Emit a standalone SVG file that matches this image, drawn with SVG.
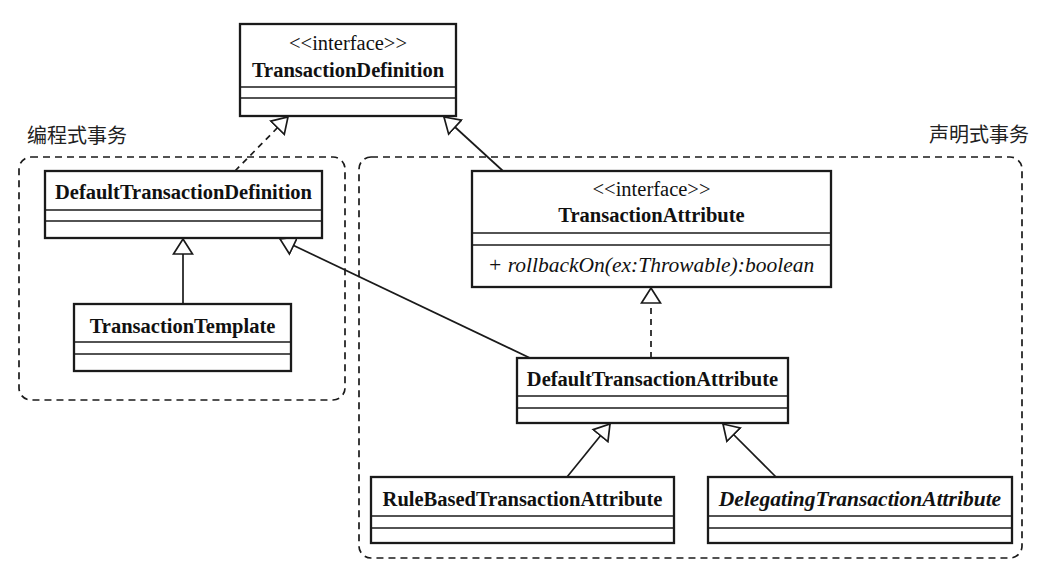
<svg xmlns="http://www.w3.org/2000/svg" width="1048" height="573" viewBox="0 0 1048 573">
<style>
.box{fill:#fff;stroke:#1a1a1a;stroke-width:2.3}
.sep{stroke:#1a1a1a;stroke-width:1.7}
.grp{fill:none;stroke:#1a1a1a;stroke-width:1.7;stroke-dasharray:7 5}
.t{font-family:"Liberation Serif","Times New Roman",serif;fill:#111;text-anchor:middle}
.b{font-weight:bold;font-size:20.5px}
.st{font-size:20.5px}
.i{font-style:italic;font-size:21.5px}
.m{font-size:21.5px;font-style:italic}
.cn{font-family:"Liberation Serif","Noto Sans CJK SC",serif;font-size:20px;fill:#222}
.c{stroke:#1a1a1a;stroke-width:1.7;fill:none}
.d{stroke-dasharray:6 5}
</style>
<defs>
<marker id="tri" markerUnits="userSpaceOnUse" viewBox="0 0 17 22" markerWidth="17" markerHeight="22" refX="16" refY="11" orient="auto">
<path d="M1,1.5 L16,11 L1,20.5 Z" fill="#fff" stroke="#1a1a1a" stroke-width="1.7" stroke-dasharray="none"/>
</marker>
</defs>
<rect width="1048" height="573" fill="#fff"/>
<g id="groups">
<rect class="grp" x="19" y="157" width="326" height="243" rx="12"/>
<text class="cn" x="27" y="143">编程式事务</text>
<rect class="grp" x="359" y="157" width="663" height="401" rx="12"/>
<text class="cn" x="929" y="142">声明式事务</text>
</g>
<g id="connectors">
<line class="c d" x1="235" y1="171" x2="288" y2="117" marker-end="url(#tri)"/>
<line class="c" x1="503" y1="171" x2="444" y2="117" marker-end="url(#tri)"/>
<line class="c" x1="183" y1="304" x2="183" y2="239" marker-end="url(#tri)"/>
<line class="c" x1="530" y1="358" x2="280" y2="239" marker-end="url(#tri)"/>
<line class="c d" x1="651" y1="358" x2="651" y2="288" marker-end="url(#tri)"/>
<line class="c" x1="567" y1="477" x2="610" y2="424" marker-end="url(#tri)"/>
<line class="c" x1="776" y1="477" x2="723" y2="424" marker-end="url(#tri)"/>
</g>
<g id="TransactionDefinition">
<rect class="box" x="240" y="24" width="216" height="92"/>
<line class="sep" x1="240" y1="87" x2="456" y2="87"/>
<line class="sep" x1="240" y1="98" x2="456" y2="98"/>
<text class="t st" x="348" y="50">&lt;&lt;interface&gt;&gt;</text>
<text class="t b" x="348" y="77">TransactionDefinition</text>
</g>
<g id="DefaultTransactionDefinition">
<rect class="box" x="45" y="171" width="277" height="67"/>
<line class="sep" x1="45" y1="210" x2="322" y2="210"/>
<line class="sep" x1="45" y1="221" x2="322" y2="221"/>
<text class="t b" x="183.5" y="199">DefaultTransactionDefinition</text>
</g>
<g id="TransactionTemplate">
<rect class="box" x="74" y="304" width="217" height="67"/>
<line class="sep" x1="74" y1="342" x2="291" y2="342"/>
<line class="sep" x1="74" y1="354" x2="291" y2="354"/>
<text class="t b" x="182.5" y="333">TransactionTemplate</text>
</g>
<g id="TransactionAttribute">
<rect class="box" x="472" y="171" width="359" height="116"/>
<line class="sep" x1="472" y1="233" x2="831" y2="233"/>
<line class="sep" x1="472" y1="245" x2="831" y2="245"/>
<text class="t st" x="651.5" y="196">&lt;&lt;interface&gt;&gt;</text>
<text class="t b" x="651.5" y="222">TransactionAttribute</text>
<text class="t m" x="651" y="272">+ rollbackOn(ex:Throwable):boolean</text>
</g>
<g id="DefaultTransactionAttribute">
<rect class="box" x="517" y="358" width="271" height="65"/>
<line class="sep" x1="517" y1="396" x2="788" y2="396"/>
<line class="sep" x1="517" y1="408" x2="788" y2="408"/>
<text class="t b" x="652.5" y="386">DefaultTransactionAttribute</text>
</g>
<g id="RuleBasedTransactionAttribute">
<rect class="box" x="371" y="477" width="303" height="66"/>
<line class="sep" x1="371" y1="516" x2="674" y2="516"/>
<line class="sep" x1="371" y1="528" x2="674" y2="528"/>
<text class="t b" x="522.5" y="506">RuleBasedTransactionAttribute</text>
</g>
<g id="DelegatingTransactionAttribute">
<rect class="box" x="708" y="477" width="304" height="66"/>
<line class="sep" x1="708" y1="516" x2="1012" y2="516"/>
<line class="sep" x1="708" y1="528" x2="1012" y2="528"/>
<text class="t b i" x="860" y="506">DelegatingTransactionAttribute</text>
</g>
</svg>
